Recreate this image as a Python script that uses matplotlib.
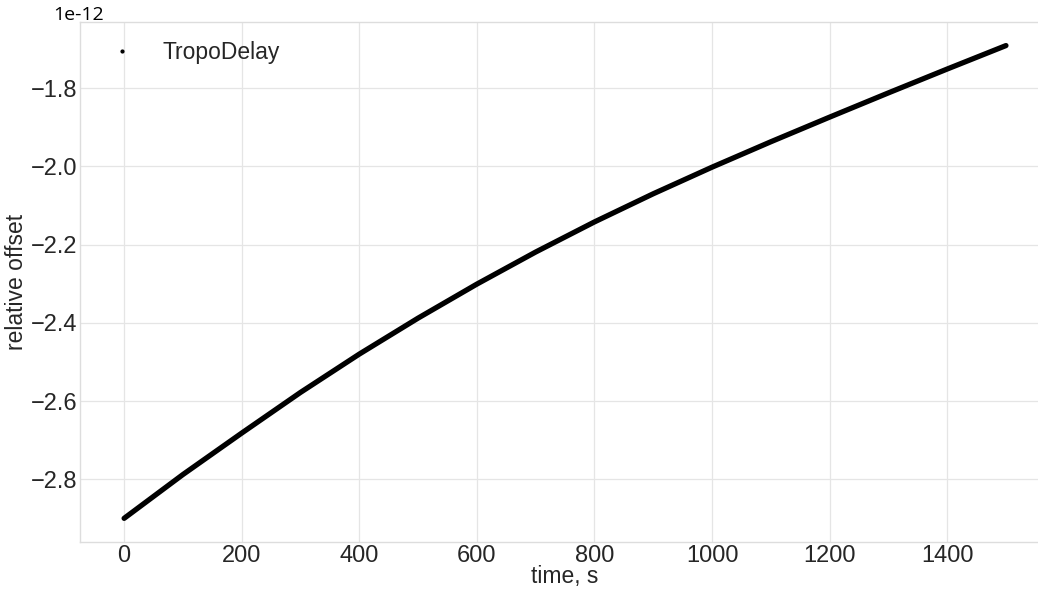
import matplotlib
matplotlib.use("Agg")
import matplotlib.pyplot as plt
from matplotlib.lines import Line2D

# time samples (s) and relative offset values (x1e-12)
time_s = [0, 100, 200, 300, 400, 500, 600, 700, 800, 900, 1000, 1100, 1200, 1300, 1400, 1500]
offset_e12 = [-2.900, -2.788, -2.682, -2.578, -2.480, -2.388, -2.301, -2.219,
              -2.142, -2.070, -2.002, -1.937, -1.874, -1.812, -1.751, -1.691]
offset = [v * 1e-12 for v in offset_e12]
series_label = 'TropoDelay'

plt.rcParams['font.family'] = ['Liberation Sans', 'DejaVu Sans']
plt.rcParams['text.color'] = '#262626'
plt.rcParams['axes.labelcolor'] = '#262626'
plt.rcParams['xtick.color'] = '#262626'
plt.rcParams['ytick.color'] = '#262626'

fig = plt.figure(figsize=(10.38, 5.90), dpi=100)
ax = fig.add_axes([0.0771, 0.0814, 0.9345, 0.8814])

ax.plot(time_s, offset, c='k', lw=3.8, solid_capstyle='round', solid_joinstyle='round')

ax.grid(True, color='#e5e5e5', lw=0.9)
ax.set_axisbelow(True)
for s in ax.spines.values():
    s.set_color('#dddddd')
    s.set_linewidth(1.0)
ax.tick_params(length=0, labelsize=17)
ax.tick_params(axis='x', pad=2.5)
ax.tick_params(axis='y', pad=2)

ax.set_xlabel('time, s', fontsize=16.5, labelpad=-2)
ax.set_ylabel('relative offset', fontsize=16.5, labelpad=2)

# scale factor drawn as in the reference (plain hyphen, different face)
ax.yaxis.get_offset_text().set_visible(False)
ax.text(-0.028, 1.004, '1e-12', transform=ax.transAxes, ha='left', va='baseline',
        fontsize=14, family='Open Sans', color='black')

proxy = Line2D([], [], ls='none', marker='.', ms=4, c='k')
ax.legend([proxy], [series_label], loc='upper left', frameon=False,
          fontsize=16.5, borderaxespad=0.42)

fig.savefig('out.png', dpi=100)
